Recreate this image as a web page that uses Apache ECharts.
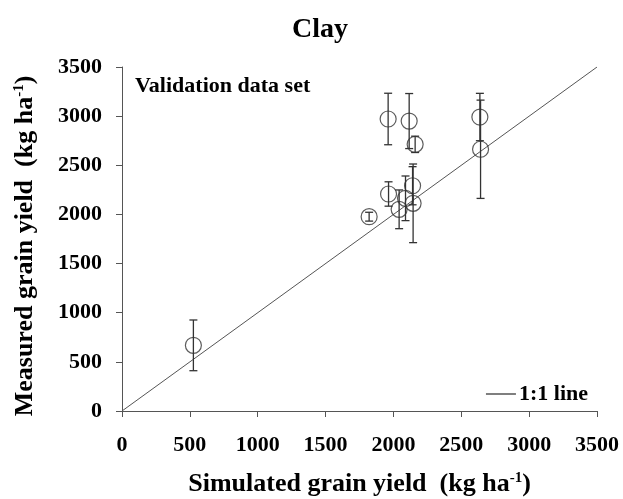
<!DOCTYPE html>
<html><head><meta charset="utf-8">
<script src="https://cdn.jsdelivr.net/npm/echarts@6/dist/echarts.min.js"></script>
<style>html,body{margin:0;padding:0;background:#fff}#c{width:623px;height:499px}</style>
</head><body><div id="c"></div>
<script>
var simulated = [1961, 2116, 2160, 2637, 2642, 2141, 1964, 2089, 2145, 2042, 1821, 526];
var measured  = [2971, 2950, 2713, 2991, 2663, 2292, 2208, 2164, 2113, 2052, 1977, 668];
var errorBar  = [262, 280, 83, 241, 500, 194, 124, 227, 400, 197, 45, 258];
var oneToOne  = [[0, 0], [3500, 3500]];
var ticks     = [0, 500, 1000, 1500, 2000, 2500, 3000, 3500];

var F = '"Liberation Serif", "Times New Roman", serif';
var pts = simulated.map(function (x, i) { return [x, measured[i]]; });
var errs = simulated.map(function (x, i) { return [x, measured[i] - errorBar[i], measured[i] + errorBar[i]]; });
var fmt = function (v) { return ticks.indexOf(v) >= 0 ? String(v) : ''; };

var chart = echarts.init(document.getElementById('c'));
chart.setOption({
  animation: false,
  backgroundColor: '#fff',
  title: [
    { text: 'Clay', left: 287, top: 11, textStyle: { fontFamily: F, fontWeight: 'bold', fontSize: 28, color: '#000' } },
    { text: 'Validation data set', left: 130, top: 70, textStyle: { fontFamily: F, fontWeight: 'bold', fontSize: 22, color: '#000' } }
  ],
  legend: {
    data: ['1:1 line'], right: 30, top: 378, icon: 'rect', itemWidth: 30, itemHeight: 1.5, itemGap: 6,
    textStyle: { fontFamily: F, fontWeight: 'bold', fontSize: 22, color: '#000', padding: [0, 0, 0, -2] }
  },
  grid: { left: 122, right: 26, top: 67, bottom: 88, outerBoundsMode: 'none', containLabel: false },
  xAxis: {
    type: 'value', min: 0, max: 3500, interval: 500,
    name: '{a|Simulated grain yield  (kg ha}{s|-1}{a|)}', nameLocation: 'middle', nameGap: 60,
    nameTextStyle: { rich: {
      a: { fontFamily: F, fontWeight: 'bold', fontSize: 26, color: '#000' },
      s: { fontFamily: F, fontWeight: 'bold', fontSize: 15, color: '#000', verticalAlign: 'top', padding: [0, 0, 10, 0] }
    } },
    axisLine: { lineStyle: { color: '#555', width: 1 } },
    axisTick: { show: true, inside: false, length: 6, lineStyle: { color: '#555' } },
    axisLabel: { margin: 23, fontFamily: F, fontWeight: 'bold', fontSize: 22, color: '#000', formatter: fmt },
    splitLine: { show: false }
  },
  yAxis: {
    type: 'value', min: 0, max: 3500, interval: 500,
    name: '{a|Measured grain yield  (kg ha}{s|-1}{a|)}', nameLocation: 'middle', nameGap: 84, nameRotate: 90,
    nameTextStyle: { padding: [0, 14, 0, 0], rich: {
      a: { fontFamily: F, fontWeight: 'bold', fontSize: 26, color: '#000' },
      s: { fontFamily: F, fontWeight: 'bold', fontSize: 15, color: '#000', verticalAlign: 'top', padding: [0, 0, 10, 0] }
    } },
    axisLine: { show: true, lineStyle: { color: '#555', width: 1 } },
    axisTick: { show: true, inside: false, length: 6, lineStyle: { color: '#555' } },
    axisLabel: { margin: 20, fontFamily: F, fontWeight: 'bold', fontSize: 22, color: '#000', formatter: fmt },
    splitLine: { show: false }
  },
  series: [
    {
      name: '1:1 line', type: 'line', data: oneToOne, symbol: 'none',
      lineStyle: { color: '#555', width: 1 }, itemStyle: { color: '#555' }, z: 1
    },
    {
      type: 'custom', data: errs, z: 2,
      renderItem: function (params, api) {
        var x = api.value(0), lo = api.value(1), hi = api.value(2);
        var p1 = api.coord([x, lo]), p2 = api.coord([x, hi]);
        var w = 4;
        var st = { stroke: '#333', lineWidth: 1.3 };
        return { type: 'group', children: [
          { type: 'line', shape: { x1: p1[0], y1: p1[1], x2: p2[0], y2: p2[1] }, style: st },
          { type: 'line', shape: { x1: p1[0] - w, y1: p1[1], x2: p1[0] + w, y2: p1[1] }, style: st },
          { type: 'line', shape: { x1: p2[0] - w, y1: p2[1], x2: p2[0] + w, y2: p2[1] }, style: st }
        ] };
      }
    },
    {
      type: 'scatter', data: pts, symbol: 'circle', symbolSize: 16, z: 3,
      itemStyle: { color: 'rgba(0,0,0,0)', borderColor: '#333', borderWidth: 1.2 }
    }
  ]
});
</script></body></html>
